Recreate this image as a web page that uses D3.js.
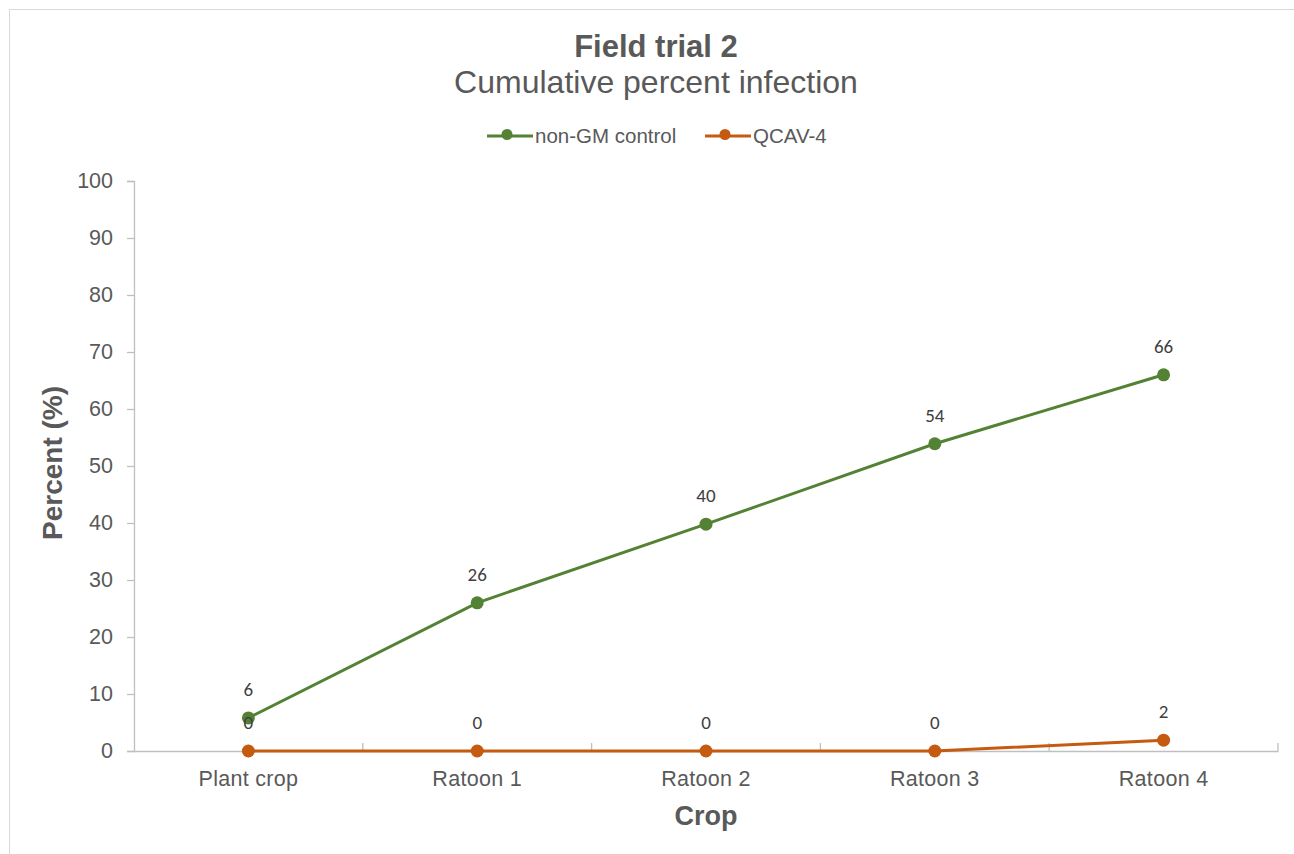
<!DOCTYPE html>
<html><head><meta charset="utf-8">
<script src="https://cdn.jsdelivr.net/npm/d3@7"></script>
<style>body{margin:0;background:#fff}</style>
</head><body>
<script>
const categories = ["Plant crop","Ratoon 1","Ratoon 2","Ratoon 3","Ratoon 4"];
const nonGM = [5.8, 26, 39.8, 53.9, 66];
const nonGMLabels = ["6","26","40","54","66"];
const qcav = [0, 0, 0, 0, 1.9];
const qcavLabels = ["0","0","0","0","2"];
const yTicks = [0,10,20,30,40,50,60,70,80,90,100];
const seriesNames = ["non-GM control","QCAV-4"];
const colors = ["#548235","#C55A11"];

const W=1294,H=854;
const FONT="'Liberation Sans',Arial,sans-serif";
const svg=d3.select("body").append("svg").attr("width",W).attr("height",H);
svg.append("rect").attr("x",9.5).attr("y",9.5).attr("width",1290).attr("height",850)
  .attr("fill","#fff").attr("stroke","#d9d9d9");

const x=d3.scaleBand().domain(categories).range([134,1278]);
const y=d3.scaleLinear().domain([0,100]).range([751,181]);
const cx=d=>x(d)+x.bandwidth()/2;

// y axis
const ya=svg.append("g").attr("transform","translate(134,0)")
  .call(d3.axisLeft(y).tickValues(yTicks).tickSize(7).tickPadding(14));
ya.select(".domain").attr("stroke","#bfbfbf").attr("stroke-width",1.3);
ya.selectAll(".tick line").attr("stroke","#bfbfbf").attr("stroke-width",1.3);
ya.selectAll("text").attr("fill","#595959").style("font-family",FONT)
  .style("font-size","21.5px");

// x axis
const xa=svg.append("g").attr("transform","translate(0,751)")
  .call(d3.axisBottom(x).tickSize(0).tickPadding(20));
xa.select(".domain").attr("stroke","#bfbfbf").attr("stroke-width",1.3);
xa.selectAll("text").attr("fill","#595959").style("font-family",FONT)
  .style("font-size","21.5px").style("letter-spacing","0.3px");
const bounds=categories.map(c=>x(c)+x.bandwidth());
svg.append("g").selectAll("line").data(bounds).join("line")
  .attr("x1",d=>d).attr("x2",d=>d).attr("y1",743).attr("y2",751)
  .attr("stroke","#bfbfbf").attr("stroke-width",1.3);

// lines
const line=d3.line().x((d,i)=>cx(categories[i])).y(d=>y(d));
[nonGM,qcav].forEach((s,k)=>{
  svg.append("path").datum(s).attr("d",line).attr("fill","none")
    .attr("stroke",colors[k]).attr("stroke-width",3).attr("stroke-linecap","round");
  svg.append("g").selectAll("circle").data(s).join("circle")
    .attr("cx",(d,i)=>cx(categories[i])).attr("cy",d=>y(d)).attr("r",6.5).attr("fill",colors[k]);
});
[[nonGM,nonGMLabels],[qcav,qcavLabels]].forEach(([s,l])=>{
  svg.append("g").selectAll("text").data(s).join("text")
    .attr("x",(d,i)=>cx(categories[i])).attr("y",d=>y(d)-22)
    .attr("text-anchor","middle").attr("fill","#404040")
    .style("font-family","Carlito,'Open Sans',sans-serif").style("font-size","19px")
    .text((d,i)=>l[i]);
});

// titles
svg.append("text").attr("x",656).attr("y",57).attr("text-anchor","middle")
  .attr("fill","#595959").style("font-family",FONT)
  .style("font-size","31px").style("font-weight","bold").text("Field trial 2");
svg.append("text").attr("x",656).attr("y",93).attr("text-anchor","middle")
  .attr("fill","#595959").style("font-family",FONT)
  .style("font-size","32px").text("Cumulative percent infection");

// legend
const leg=[{x:487,n:seriesNames[0],c:colors[0]},{x:705,n:seriesNames[1],c:colors[1]}];
leg.forEach(l=>{
  svg.append("line").attr("x1",l.x).attr("x2",l.x+46).attr("y1",136).attr("y2",136)
    .attr("stroke",l.c).attr("stroke-width",3);
  svg.append("circle").attr("cx",l.x+20).attr("cy",134.5).attr("r",5.5).attr("fill",l.c);
  svg.append("text").attr("x",l.x+48).attr("y",143).attr("fill","#595959")
    .style("font-family",FONT).style("font-size","20.5px").text(l.n);
});

// axis titles
svg.append("text").attr("transform","translate(62,463) rotate(-90)").attr("text-anchor","middle")
  .attr("fill","#595959").style("font-family",FONT)
  .style("font-size","28px").style("font-weight","bold").text("Percent (%)");
svg.append("text").attr("x",706).attr("y",825).attr("text-anchor","middle")
  .attr("fill","#595959").style("font-family",FONT)
  .style("font-size","27px").style("font-weight","bold").text("Crop");
</script>
</body></html>
